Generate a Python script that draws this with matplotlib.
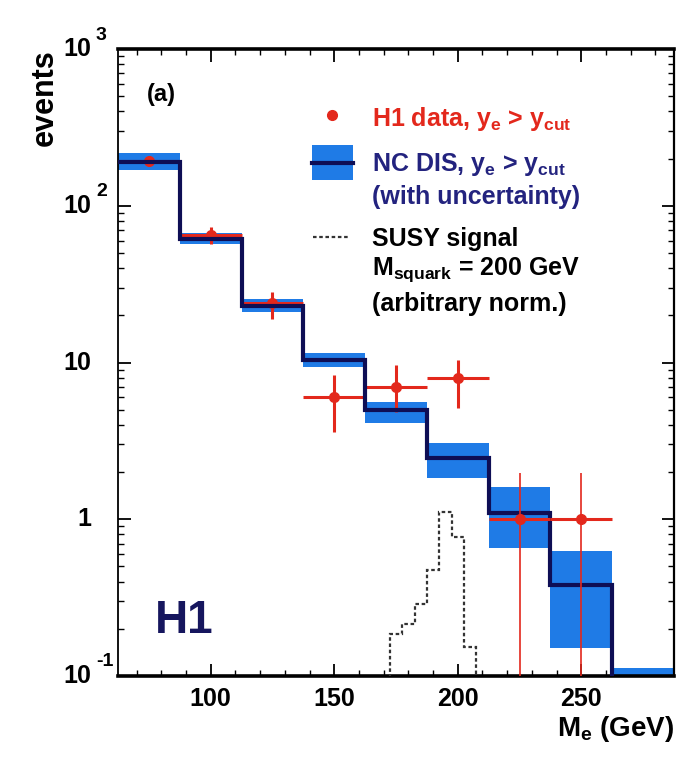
import numpy as np
import matplotlib
matplotlib.use("Agg")
import matplotlib.pyplot as plt
from matplotlib import transforms
from matplotlib.ticker import MultipleLocator, LogLocator, NullFormatter

plt.rcParams['font.family'] = ['Liberation Sans', 'DejaVu Sans']
plt.rcParams['font.weight'] = 'bold'
plt.rcParams['mathtext.fontset'] = 'custom'
plt.rcParams['mathtext.rm'] = 'Liberation Sans:bold'
plt.rcParams['mathtext.it'] = 'Liberation Sans:bold'
plt.rcParams['mathtext.bf'] = 'Liberation Sans:bold'

# ---- data ----
bin_edges = [62.5, 87.5, 112.5, 137.5, 162.5, 187.5, 212.5, 237.5, 262.5, 287.5]
mc_vals = [191, 61, 23.0, 10.3, 5.0, 2.45, 1.10, 0.38, 0.09]
mc_lo = [169, 57, 21.0, 9.4, 4.1, 1.82, 0.66, 0.15, 0.075]
mc_hi = [216, 67, 25.5, 11.5, 5.6, 3.05, 1.60, 0.63, 0.112]

data_x = [75, 100, 125, 150, 175, 200, 225, 250]
data_y = [193, 65, 24, 6.0, 7.0, 8.0, 1.0, 1.0]
data_ylo = [179, 57, 19, 3.6, 4.8, 5.1, 0.01, 0.01]
data_yhi = [208, 73, 28, 8.3, 9.7, 10.4, 1.96, 1.96]

susy_edges = [172.5, 177.5, 182.5, 187.5, 192.5, 197.5, 202.5, 207.5]
susy_vals = [0.186, 0.215, 0.289, 0.472, 1.11, 0.77, 0.152]

navy = '#0e0e55'
band = '#1f7be6'
red = '#e3281c'

fig = plt.figure(figsize=(6.96, 7.58), dpi=100)
ax = fig.add_axes([118/696, 1-676/758, (674-118)/696, (676-49)/758])
ax.set_yscale('log')
ax.set_xlim(62.5, 287.5)
ax.set_ylim(0.1, 1000)

edges = np.array(bin_edges)
widths = np.diff(edges)
lo = np.array(mc_lo); hi = np.array(mc_hi)
ax.bar(edges[:-1], hi - lo, bottom=lo, width=widths, align='edge',
       color=band, edgecolor='none', zorder=2)
ax.stairs(mc_vals, edges, baseline=None, color=navy, lw=3, zorder=4)

ax.stairs(susy_vals, susy_edges, baseline=1e-3, color='#333333', lw=1.6,
          ls=(0, (1.6, 1.2)), zorder=4)

dx = np.array(data_x, dtype=float)
dy = np.array(data_y)
ylo = np.array(data_ylo); yhi = np.array(data_yhi)
big = dy > 1.5
ax.errorbar(dx[big], dy[big], yerr=[dy[big] - ylo[big], yhi[big] - dy[big]],
            xerr=12.5, fmt='o', color=red, ms=7, elinewidth=2.2, capsize=0,
            zorder=3)
sm = ~big
ax.errorbar(dx[sm], dy[sm], xerr=12.5, fmt='o', color=red, ms=7,
            elinewidth=2.2, capsize=0, zorder=5)
ax.errorbar(dx[sm], dy[sm], yerr=[dy[sm] - ylo[sm], yhi[sm] - dy[sm]],
            fmt='none', ecolor=red, elinewidth=1.2, capsize=0, zorder=5)

# ticks
ax.xaxis.set_major_locator(MultipleLocator(50))
ax.xaxis.set_minor_locator(MultipleLocator(10))
ax.yaxis.set_major_locator(LogLocator(base=10, numticks=10))
ax.yaxis.set_minor_locator(LogLocator(base=10, subs=np.arange(2, 10), numticks=20))
ax.yaxis.set_minor_formatter(NullFormatter())
ax.tick_params(which='both', direction='in', top=True, right=True)
ax.tick_params(which='major', length=9, width=1.3, labelsize=18, pad=8)
ax.tick_params(which='minor', length=4.5, width=1.0)
ax.tick_params(axis='y', labelleft=False)
for lab in ax.get_xticklabels():
    lab.set_fontweight('bold')
for s, w in [('top', 2.6), ('bottom', 2.6), ('left', 1.3), ('right', 1.6)]:
    ax.spines[s].set_linewidth(w)

# y tick labels
ytr = ax.get_yaxis_transform()
xr = (91-118)/556
for val, base, sup in [(1000, '10', '3'), (100, '10', '2'), (10, '10', None),
                       (1, '1', None), (0.1, '10', '-1')]:
    ax.text(xr, val, base, transform=ytr, ha='right', va='center',
            fontsize=18, fontweight='bold', clip_on=False)
    if sup:
        tr = transforms.offset_copy(ytr, fig=fig, x=5, y=14, units='dots')
        ax.text(xr, val, sup, transform=tr, ha='left', va='center',
                fontsize=14, fontweight='bold', clip_on=False)

# axis labels
fig.text(45/696, 1-98/758, 'events', rotation=90, ha='center', va='center',
         fontsize=22, fontweight='bold')
fig.text(674/696, 1-729/758, r'M$_{\rm e}$ (GeV)', ha='right', va='center',
         fontsize=20, fontweight='bold')

# annotations
ax.text(0.052, 0.928, '(a)', transform=ax.transAxes, fontsize=17,
        fontweight='bold', ha='left', va='center')
ax.text(0.066, 0.088, 'H1', transform=ax.transAxes, fontsize=33,
        fontweight='bold', color='#16165e', ha='left', va='center')

# legend (manual)
T = ax.transAxes
fs = 18
ax.plot([0.385], [0.895], 'o', color=red, ms=7, transform=T, clip_on=False)
ax.text(0.457, 0.888, r'H1 data, y$_{\rm e}$ > y$_{\rm cut}$', transform=T,
        color=red, fontsize=fs, fontweight='bold', va='center')
ax.add_patch(plt.Rectangle((0.349, 0.791), 0.074, 0.056, transform=T,
                           color=band, ec='none'))
ax.plot([0.349, 0.423], [0.818, 0.818], color=navy, lw=3, transform=T)
ax.text(0.457, 0.815, r'NC DIS, y$_{\rm e}$ > y$_{\rm cut}$', transform=T,
        color='#23237f', fontsize=fs, fontweight='bold', va='center')
ax.text(0.457, 0.764, '(with uncertainty)', transform=T,
        color='#23237f', fontsize=fs, fontweight='bold', va='center')
ax.plot([0.35, 0.417], [0.700, 0.700], color='#333333', lw=1.6,
        ls=(0, (1.6, 1.2)), transform=T)
ax.text(0.457, 0.697, 'SUSY signal', transform=T, color='black',
        fontsize=fs, fontweight='bold', va='center')
ax.text(0.457, 0.648, r'M$_{\rm squark}$ = 200 GeV', transform=T, color='black',
        fontsize=fs, fontweight='bold', va='center')
ax.text(0.457, 0.594, '(arbitrary norm.)', transform=T, color='black',
        fontsize=fs, fontweight='bold', va='center')

fig.savefig('out.png', dpi=100)
